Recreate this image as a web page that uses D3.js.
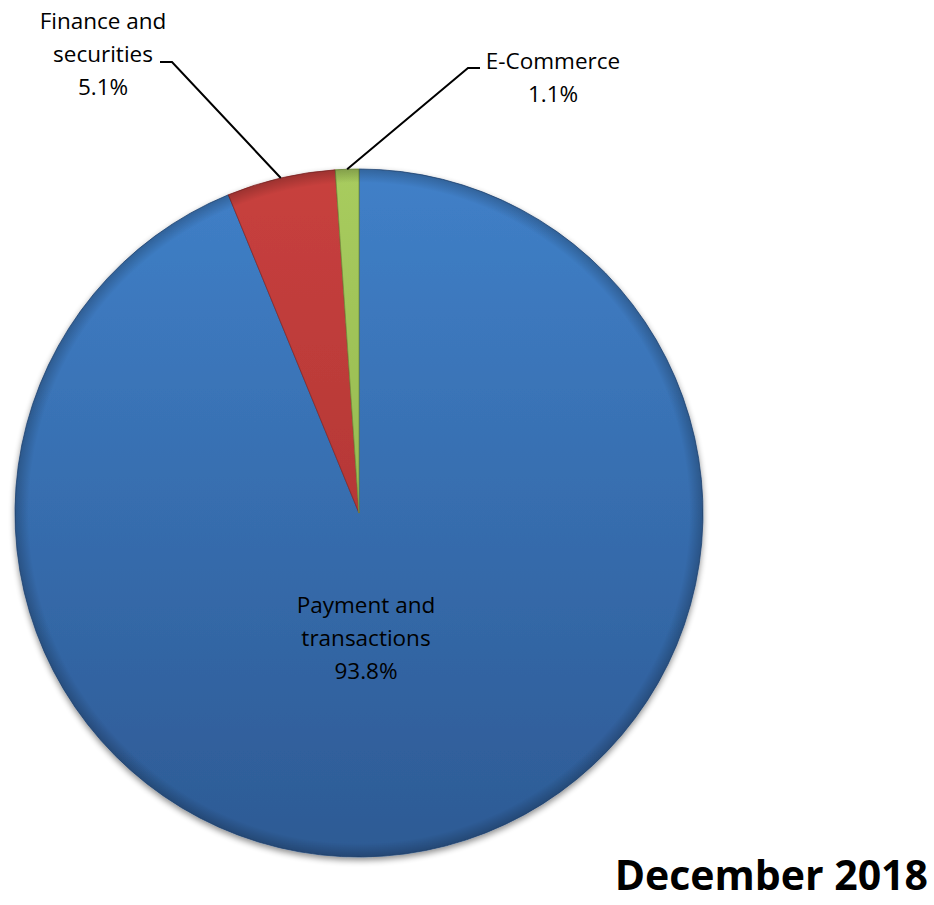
<!DOCTYPE html>
<html>
<head>
<meta charset="utf-8">
<script src="https://cdn.jsdelivr.net/npm/d3@7"></script>
<style>
  body { margin: 0; background: #fff; }
  text { font-family: "Open Sans", sans-serif; fill: #000; }
</style>
</head>
<body>
<svg id="chart" width="934" height="905"></svg>
<script>
// chart data
const categories = ['Payment and transactions', 'Finance and securities', 'E-Commerce'];
const labelLines = [['Payment and', 'transactions'], ['Finance and', 'securities'], ['E-Commerce']];
const shares = [93.8, 5.1, 1.1];
const title = 'December 2018';

const CX = 359;
const CY = 513;
const RADIUS = 344;
const LINE_STEP = 33;

const colors = [
  { top: '#4080c8', bottom: '#2d5a94' },
  { top: '#c8403e', bottom: '#a3302e' },
  { top: '#a8cc5e', bottom: '#86a846' }
];

// where each label block sits (centre x, first baseline), and leader elbows
const labelLayout = [
  { x: 366, y: 613, inside: true },
  { x: 103, y: 29, elbow: [[160, 62], [172, 62]] },
  { x: 553, y: 69, elbow: [[480, 68], [468, 68]] }
];

const svg = d3.select('#chart');
const defs = svg.append('defs');

// gradients live in the pie group's coordinates (centre at 0,0)
colors.forEach((c, i) => {
  let g = defs.append('linearGradient')
    .attr('id', 'fill' + i)
    .attr('gradientUnits', 'userSpaceOnUse')
    .attr('x1', 0).attr('y1', -RADIUS)
    .attr('x2', 0).attr('y2', RADIUS);
  g.append('stop').attr('offset', '0%').attr('stop-color', c.top);
  g.append('stop').attr('offset', '100%').attr('stop-color', c.bottom);
});

// darker rim near the edge
let rim = defs.append('radialGradient')
  .attr('id', 'rim')
  .attr('gradientUnits', 'userSpaceOnUse')
  .attr('cx', 0).attr('cy', 0).attr('r', RADIUS);
rim.append('stop').attr('offset', '96%').attr('stop-color', '#000').attr('stop-opacity', 0);
rim.append('stop').attr('offset', '100%').attr('stop-color', '#000').attr('stop-opacity', 0.22);

let shadow = defs.append('filter').attr('id', 'shadow')
  .attr('x', '-10%').attr('y', '-10%').attr('width', '120%').attr('height', '120%');
shadow.append('feGaussianBlur').attr('in', 'SourceAlpha').attr('stdDeviation', 3);
shadow.append('feOffset').attr('dx', 0).attr('dy', 3).attr('result', 'blur');
shadow.append('feComponentTransfer').append('feFuncA').attr('type', 'linear').attr('slope', 0.45);
let merge = shadow.append('feMerge');
merge.append('feMergeNode');
merge.append('feMergeNode').attr('in', 'SourceGraphic');

const pie = d3.pie().sort(null).value(d => d);
const arcs = pie(shares);
const arc = d3.arc().innerRadius(0).outerRadius(RADIUS);

let pieGroup = svg.append('g')
  .attr('transform', 'translate(' + CX + ',' + CY + ')');

pieGroup.append('g').attr('filter', 'url(#shadow)')
  .selectAll('path')
  .data(arcs)
  .enter()
  .append('path')
  .attr('d', arc)
  .attr('fill', (d, i) => 'url(#fill' + i + ')')
  .style('stroke', (d, i) => d3.color(colors[i].bottom).darker(0.4))
  .style('stroke-width', 0.8);

pieGroup.selectAll('path.rim')
  .data(arcs)
  .enter()
  .append('path')
  .classed('rim', true)
  .attr('d', arc)
  .attr('fill', 'url(#rim)');

// leader lines
arcs.forEach((d, i) => {
  let lay = labelLayout[i];
  if (lay.inside) return;
  let mid = (d.startAngle + d.endAngle) / 2;
  let end = [CX + RADIUS * Math.sin(mid), CY - RADIUS * Math.cos(mid)];
  svg.append('path')
    .attr('d', d3.line()([lay.elbow[0], lay.elbow[1], end]))
    .attr('fill', 'none')
    .attr('stroke', '#000')
    .attr('stroke-width', 2);
});

// labels
labelLines.forEach((lines, i) => {
  let lay = labelLayout[i];
  let text = svg.append('text')
    .attr('text-anchor', 'middle')
    .style('font-size', '22.5px');
  lines.concat([shares[i].toFixed(1) + '%']).forEach((line, k) => {
    text.append('tspan')
      .attr('x', lay.x)
      .attr('y', lay.y + k * LINE_STEP)
      .text(line);
  });
});

svg.append('text')
  .attr('x', 928)
  .attr('y', 890)
  .attr('text-anchor', 'end')
  .style('font-size', '41px')
  .style('font-weight', 'bold')
  .text(title);
</script>
</body>
</html>
